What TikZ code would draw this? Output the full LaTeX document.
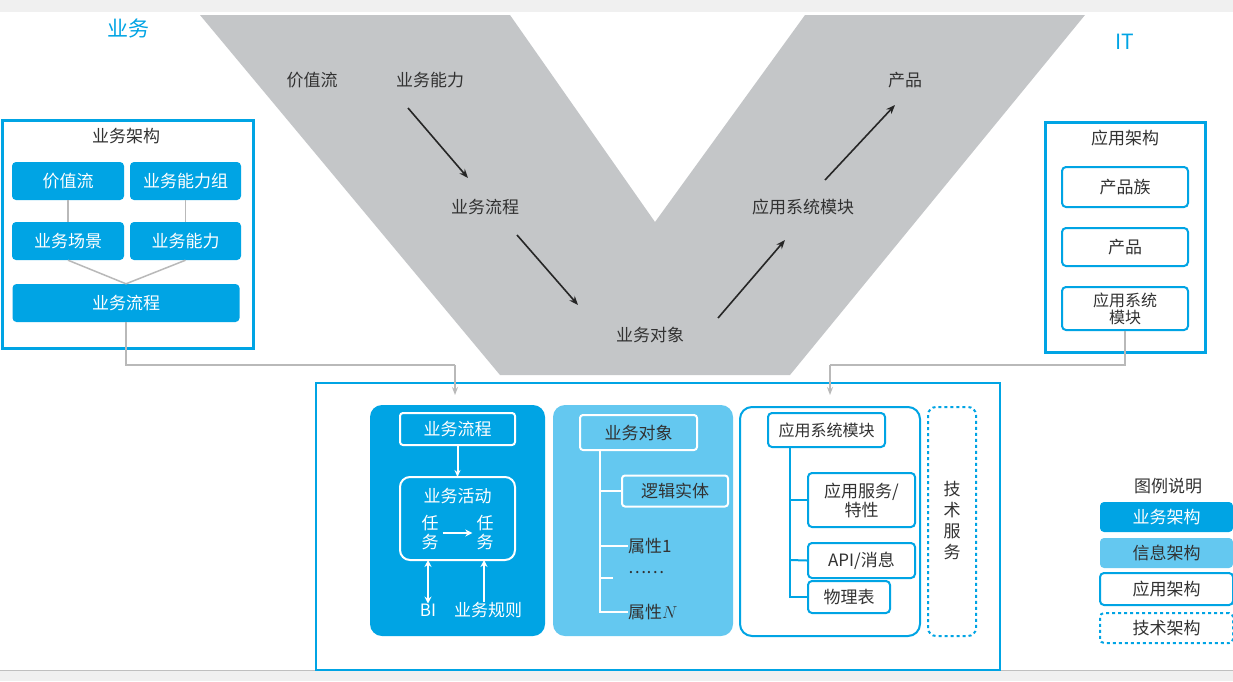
\documentclass[tikz,border=0pt]{standalone}
\usepackage{fontspec}
\setmainfont{Noto Sans CJK SC}
\usetikzlibrary{arrows.meta}
\definecolor{cy}{RGB}{0,164,228}
\definecolor{lcy}{RGB}{100,200,240}
\definecolor{vg}{RGB}{196,198,200}
\definecolor{tx}{RGB}{50,50,50}
\definecolor{ln}{RGB}{185,185,185}
\tikzset{
 t/.style={font=\fontsize{17}{19}\selectfont,text=tx,inner sep=0pt},
 fb/.style={fill=cy,rounded corners=4pt,text=white,font=\fontsize{17}{19}\selectfont,inner sep=0pt},
 wb/.style={draw=cy,line width=2pt,fill=white,rounded corners=4pt,text=tx,font=\fontsize{17}{19}\selectfont,inner sep=0pt,align=center},
 ib/.style={draw=white,line width=2pt,rounded corners=3pt,font=\fontsize{17}{19}\selectfont,inner sep=0pt,align=center},
 gl/.style={draw=ln,line width=1.5pt},
 ar/.style={-{Stealth[length=9pt,width=7pt]},line width=1.6pt,black!85},
 wl/.style={draw=white,line width=2pt},
}
\begin{document}
\begin{tikzpicture}[x=1pt,y=-1pt]
\useasboundingbox (0,0) rectangle (1233,681);
\fill[gray!12] (0,0) rectangle (1233,12);
\fill[gray!12] (0,670) rectangle (1233,681);
\draw[gray!50] (0,670)--(1233,670);
% V shape
\fill[vg] (200,15) -- (510,15) -- (655,222) -- (805,15) -- (1085,15) -- (790,375) -- (500,375) -- cycle;
\node[t,text=cy,font=\fontsize{21}{23}\selectfont] (lbiz) at (128,28) {业务};
\node[t,text=cy,font=\fontsize{21}{23}\selectfont] (lit) at (1125,42) {IT};
\node[t] (v1) at (312,80) {价值流};
\node[t] (v2) at (430,80) {业务能力};
\node[t] (v3) at (485,207) {业务流程};
\node[t] (v4) at (650,335) {业务对象};
\node[t] (v5) at (803,207) {应用系统模块};
\node[t] (v6) at (905,80) {产品};
\coordinate (a1s) at (408,108); \coordinate (a1e) at (468,178);
\coordinate (a2s) at (517,235); \coordinate (a2e) at (578,305);
\coordinate (a3s) at (718,318); \coordinate (a3e) at (785,240);
\coordinate (a4s) at (825,180); \coordinate (a4e) at (895,105);
\draw[ar] (a1s)--(a1e); \draw[ar] (a2s)--(a2e); \draw[ar] (a3s)--(a3e); \draw[ar] (a4s)--(a4e);
% left box
\draw[cy,line width=3pt,fill=white] (2,120) rectangle (253,348);
\node[t] (lt) at (126,136) {业务架构};
\node[fb,minimum width=112pt,minimum height=38pt] (l1) at (68,181) {价值流};
\node[fb,minimum width=111pt,minimum height=38pt] (l2) at (185.5,181) {业务能力组};
\node[fb,minimum width=112pt,minimum height=38pt] (l3) at (68,241) {业务场景};
\node[fb,minimum width=111pt,minimum height=38pt] (l4) at (185.5,241) {业务能力};
\node[fb,minimum width=227pt,minimum height=38pt] (l5) at (126,303) {业务流程};
\draw[gl] (l1)--(l3); \draw[gl] (l2)--(l4);
\draw[gl] (l3.south)--(l5.north); \draw[gl] (l4.south)--(l5.north);
% right box
\draw[cy,line width=3pt,fill=white] (1045,122) rectangle (1205,352);
\node[t] (rt) at (1125,138) {应用架构};
\node[wb,minimum width=126pt,minimum height=40pt] (r1) at (1125,187) {产品族};
\node[wb,minimum width=126pt,minimum height=38pt] (r2) at (1125,247) {产品};
\node[wb,minimum width=126pt,minimum height=43pt,font=\fontsize{16}{17}\selectfont] (r3) at (1125,308.5) {应用系统\\模块};
% center box
\draw[cy,line width=2.5pt,fill=white] (316,383) rectangle (1000,670);
\coordinate (c1) at (126,365); \coordinate (c2) at (455,365);
\coordinate (c3) at (1125,365); \coordinate (c4) at (830,365);
\draw[gl] (l5.south)--(c1)--(c2);
\draw[gl,-{Stealth[length=8pt,width=6pt]}] (c2)--(455,395);
\draw[gl] (r3.south)--(c3)--(c4);
\draw[gl,-{Stealth[length=8pt,width=6pt]}] (c4)--(830,395);
% col1
\fill[cy,rounded corners=12pt] (370,405) rectangle (545,636);
\node[ib,text=white,minimum width=115pt,minimum height=32pt] (p1) at (457.5,429) {业务流程};
\draw[wl,rounded corners=10pt] (400,477) rectangle (515,560);
\node[t,text=white] (p2) at (457.5,496) {业务活动};
\node[t,text=white,align=center,font=\fontsize{17}{19}\selectfont] (k1) at (430,533) {任\\务};
\node[t,text=white,align=center,font=\fontsize{17}{19}\selectfont] (k2) at (485,533) {任\\务};
\draw[wl,-{Stealth[length=7pt,width=7pt]}] ([xshift=4pt]k1.east) -- ([xshift=-4pt]k2.west);
\coordinate (pb) at (457.5,477);
\draw[wl,-{Stealth[length=7pt,width=6pt]}] (p1.south)--(pb);
\node[t,text=white] (bi) at (428,610) {BI};
\node[t,text=white] (gz) at (488,610) {业务规则};
\draw[wl,{Stealth[length=7pt,width=7pt]}-{Stealth[length=7pt,width=7pt]}] (428,560)--(bi.north);
\draw[wl,-{Stealth[length=7pt,width=7pt]}] ([xshift=-4pt]gz.north)--(484,560);
% col2
\fill[lcy,rounded corners=12pt] (553,405) rectangle (733,636);
\node[ib,text=tx,minimum width=117pt,minimum height=35pt] (o1) at (638.5,432.5) {业务对象};
\node[ib,text=tx,minimum width=106pt,minimum height=31pt] (o2) at (675,491) {逻辑实体};
\node[t,anchor=west] (o3) at (628,546) {属性1};
\node[t,anchor=west] (o4) at (628,573) {……};
\node[t,anchor=west] (o5) at (628,612) {属性$N$};
\draw[wl] (600,450)--(600,612)--(o5.west);
\draw[wl] (600,491)--(o2.west);
\draw[wl] (600,546)--(o3.west);
\draw[wl] (600,578)--(613,578);
% col3
\draw[cy,line width=2pt,fill=white,rounded corners=12pt] (740,407) rectangle (920,636);
\node[wb,minimum width=117pt,minimum height=34pt,font=\fontsize{16}{18}\selectfont] (m1) at (826.5,430) {应用系统模块};
\node[wb,minimum width=107pt,minimum height=54pt] (m2) at (861.5,500) {应用服务/\\特性};
\node[wb,minimum width=107pt,minimum height=35pt] (m3) at (861.5,560.5) {API/消息};
\node[wb,minimum width=82pt,minimum height=32pt] (m4) at (849,597) {物理表};
\draw[cy,line width=2pt] (790,447)--(790,597)--(m4.west);
\draw[cy,line width=2pt] (790,500)--(m2.west);
\draw[cy,line width=2pt] (790,560)--(m3.west);
% col4
\draw[cy,line width=2pt,dashed,rounded corners=8pt] (928,407) rectangle (976,636);
\node[t,align=center,font=\fontsize{17}{21}\selectfont] (ts) at (952,521) {技\\术\\服\\务};
% legend
\node[t] (lg) at (1168,486) {图例说明};
\node[fb,minimum width=133pt,minimum height=30pt] (g1) at (1166.5,517) {业务架构};
\node[fb,fill=lcy,text=tx,minimum width=133pt,minimum height=30pt] (g2) at (1166.5,553) {信息架构};
\node[wb,minimum width=133pt,minimum height=32pt] (g3) at (1166.5,589) {应用架构};
\node[wb,dashed,minimum width=133pt,minimum height=30pt] (g4) at (1166.5,628) {技术架构};
\end{tikzpicture}
\end{document}
